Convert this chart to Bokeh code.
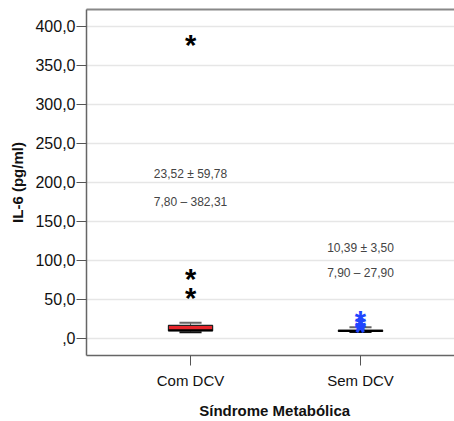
from bokeh.plotting import figure
from bokeh.models import Range1d, FixedTicker, LinearAxis
from bokeh.core.properties import value
from bokeh.embed import file_html
from bokeh.resources import INLINE

# ---- data ----
categories = ["Com DCV", "Sem DCV"]
q1 = [9.5, 8.8]
median = [10.2, 9.4]
q3 = [16.5, 10.6]
whisker_low = [7.8, 7.9]
whisker_high = [20.0, 14.0]
outlier_cat = ["Com DCV", "Com DCV", "Com DCV", "Sem DCV", "Sem DCV", "Sem DCV", "Sem DCV"]
outlier_val = [382.31, 82.0, 58.0, 27.9, 22.0, 17.5, 15.0]
mean = [23.52, 10.39]
sd = [59.78, 3.50]
vmin = [7.80, 7.90]
vmax = [382.31, 27.90]
y_ticks = [0, 50, 100, 150, 200, 250, 300, 350, 400]
y_tick_labels = [",0", "50,0", "100,0", "150,0", "200,0", "250,0", "300,0", "350,0", "400,0"]

FONT = "Liberation Sans"
pos = {c: i + 1 for i, c in enumerate(categories)}
xs = [pos[c] for c in categories]

def fmt(v):
    return f"{v:.2f}".replace(".", ",")

p = figure(width=454, height=421, output_backend="svg", toolbar_location=None,
           x_range=Range1d(0.388, 2.553), y_range=Range1d(-22.1, 421.4),
           min_border_left=86, min_border_right=0, min_border_top=9, min_border_bottom=65)
p.outline_line_color = None
p.background_fill_color = "white"
p.border_fill_color = "white"

# grid
p.xgrid.visible = False
p.ygrid.ticker = FixedTicker(ticks=y_ticks)
p.ygrid.grid_line_color = "#e6e6e6"
p.ygrid.grid_line_width = 1.5

# y axis
ya = p.yaxis[0]
ya.ticker = FixedTicker(ticks=y_ticks)
ya.major_label_overrides = {t: l for t, l in zip(y_ticks, y_tick_labels)}
ya.major_tick_out = 10
ya.major_tick_in = 0
ya.minor_tick_line_color = None
ya.major_tick_line_color = "#555555"
ya.axis_line_color = "#666666"
ya.axis_line_width = 1.5
ya.major_label_text_font = FONT
ya.major_label_text_font_size = "16px"
ya.major_label_text_color = "#111111"
ya.major_label_standoff = 1
ya.axis_label = "IL-6 (pg/ml)"
ya.axis_label_text_font = FONT
ya.axis_label_text_font_style = "bold"
ya.axis_label_text_font_size = "15px"
ya.axis_label_text_color = "#111111"
ya.axis_label_standoff = 6

# x axis
xa = p.xaxis[0]
xa.ticker = FixedTicker(ticks=xs)
xa.major_label_overrides = {pos[c]: c for c in categories}
xa.major_tick_out = 10
xa.major_tick_in = 0
xa.minor_tick_line_color = None
xa.major_tick_line_color = "#555555"
xa.axis_line_color = "#666666"
xa.axis_line_width = 1.5
xa.major_label_text_font = FONT
xa.major_label_text_font_size = "15px"
xa.major_label_text_color = "#111111"
xa.major_label_standoff = 6
xa.axis_label = "\u00a0\u00a0Síndrome Metabólica"
xa.axis_label_text_font = FONT
xa.axis_label_text_font_style = "bold"
xa.axis_label_text_font_size = "15px"
xa.axis_label_text_color = "#111111"
xa.axis_label_standoff = 10

# top border line
top = LinearAxis(ticker=FixedTicker(ticks=[]), major_tick_line_color=None, minor_tick_line_color=None,
                 major_label_text_font_size="0px", axis_line_color="#888888", axis_line_width=2,
                 major_label_standoff=0)
p.add_layout(top, "above")

BOX_W = 0.26
CAP_W = 0.13

# whiskers
p.segment(x0=xs, y0=q3, x1=xs, y1=whisker_high, line_color="#666666", line_width=1)
p.segment(x0=xs, y0=q1, x1=xs, y1=whisker_low, line_color="#666666", line_width=1)
p.segment(x0=[x - CAP_W / 2 for x in xs], y0=whisker_high, x1=[x + CAP_W / 2 for x in xs], y1=whisker_high,
          line_color="#666666", line_width=2)
p.segment(x0=[x - CAP_W / 2 for x in xs], y0=whisker_low, x1=[x + CAP_W / 2 for x in xs], y1=whisker_low,
          line_color="#111111", line_width=2)

# boxes
p.vbar(x=xs, width=BOX_W, bottom=q1, top=q3, fill_color="#e8262b", line_color="#222222", line_width=1.2)
p.segment(x0=[x - BOX_W / 2 for x in xs], y0=median, x1=[x + BOX_W / 2 for x in xs], y1=median,
          line_color="#000000", line_width=2)

# outliers as asterisks
ox = [pos[c] for c in outlier_cat]
ocol = ["#000000" if c == categories[0] else "#1f45ff" for c in outlier_cat]
p.text(x=ox, y=outlier_val, text=["*"] * len(ox), text_color=ocol,
       text_font=value(FONT), text_font_style="bold", text_font_size="29px",
       text_align="center", text_baseline="alphabetic", y_offset=5)

# annotations
ann_y1 = [211, 116]
ann_y2 = [175, 84]
l1 = [f"{fmt(m)} ± {fmt(s)}" for m, s in zip(mean, sd)]
l2 = [f"{fmt(a)} – {fmt(b)}" for a, b in zip(vmin, vmax)]
p.text(x=xs, y=ann_y1, text=l1, text_font=value(FONT), text_font_size="12px",
       text_color="#444444", text_align="center", text_baseline="middle")
p.text(x=xs, y=ann_y2, text=l2, text_font=value(FONT), text_font_size="12px",
       text_color="#444444", text_align="center", text_baseline="middle")

open("out.html", "w").write(file_html(p, INLINE))
